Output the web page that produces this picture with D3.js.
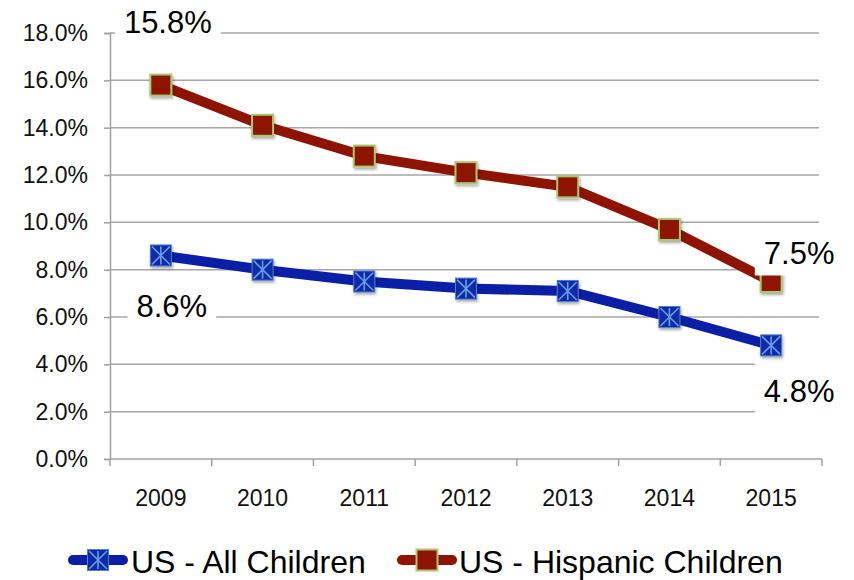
<!DOCTYPE html>
<html>
<head>
<meta charset="utf-8">
<script src="https://cdn.jsdelivr.net/npm/d3@7"></script>
<style>
  html, body { margin: 0; padding: 0; background: #fff; }
  svg { display: block; font-family: "Liberation Sans", Arial, sans-serif; }
</style>
</head>
<body>
<svg id="chart" width="854" height="580"></svg>
<script>
// Uninsured rate by year
const years = ["2009", "2010", "2011", "2012", "2013", "2014", "2015"];
const allChildren = [8.6, 8.0, 7.5, 7.2, 7.1, 6.0, 4.8];
const hispanicChildren = [15.8, 14.1, 12.8, 12.1, 11.5, 9.7, 7.5];
const yTicks = [0, 2, 4, 6, 8, 10, 12, 14, 16, 18];
const seriesNames = ["US - All Children", "US - Hispanic Children"];

const svg = d3.select("#chart");
const plotLeft = 110, plotRight = 822, plotTop = 33, plotBottom = 459;

const x = d3.scaleBand().domain(years).range([plotLeft, plotRight]);
const y = d3.scaleLinear().domain([0, 18]).range([plotBottom, plotTop]);
const fmt = d => d.toFixed(1) + "%";

const defs = svg.append("defs");
const shadow = defs.append("filter").attr("id", "shadow")
  .attr("x", "-40%").attr("y", "-40%").attr("width", "180%").attr("height", "180%");
shadow.append("feDropShadow").attr("dx", 1).attr("dy", 2)
  .attr("stdDeviation", 1.6).attr("flood-color", "#000").attr("flood-opacity", 0.35);

// gridlines
svg.append("g").selectAll("line").data(yTicks.filter(d => d > 0)).join("line")
  .attr("x1", plotLeft).attr("x2", plotRight - 3)
  .attr("y1", d => y(d)).attr("y2", d => y(d))
  .attr("stroke", "#a6a6a6").attr("stroke-width", 1.5);

// y axis
const yAxis = svg.append("g").attr("transform", `translate(${plotLeft},0)`)
  .call(d3.axisLeft(y).tickValues(yTicks).tickFormat(fmt).tickSize(6).tickPadding(16));
yAxis.select(".domain").attr("stroke", "#a0a0a0").attr("stroke-width", 1.5);
yAxis.selectAll(".tick line").attr("stroke", "#a0a0a0").attr("stroke-width", 1.5);
yAxis.selectAll("text").attr("font-size", 23).attr("fill", "#111")
  .attr("font-family", "Liberation Sans, Arial, sans-serif");

// x axis with ticks at category boundaries
const xAxisG = svg.append("g").attr("transform", `translate(0,${plotBottom})`);
xAxisG.append("line").attr("x1", plotLeft).attr("x2", plotRight)
  .attr("stroke", "#a0a0a0").attr("stroke-width", 1.5);
const boundaries = years.map(d => x(d)).concat([plotRight]);
xAxisG.selectAll(".b").data(boundaries).join("line").attr("class", "b")
  .attr("x1", d => d).attr("x2", d => d).attr("y1", 0).attr("y2", 7)
  .attr("stroke", "#a0a0a0").attr("stroke-width", 1.5);
xAxisG.selectAll("text").data(years).join("text")
  .attr("x", d => x(d) + x.bandwidth() / 2).attr("y", 47)
  .attr("text-anchor", "middle").attr("font-size", 23).attr("fill", "#111")
  .text(d => d);

const cx = (d, i) => x(years[i]) + x.bandwidth() / 2;
const line = d3.line().x(cx).y(d => y(d));

const blue = "#0a1fa6", red = "#8e1300";

function drawSeries(values, color) {
  svg.append("path").datum(values).attr("d", line)
    .attr("fill", "none").attr("stroke", color).attr("stroke-width", 10)
    .attr("stroke-linejoin", "round");
}
drawSeries(allChildren, blue);
drawSeries(hispanicChildren, red);

const S = 21;
function starMarker(g) {
  g.append("rect").attr("x", -S / 2).attr("y", -S / 2).attr("width", S).attr("height", S)
    .attr("fill", "#0a2aa8").attr("stroke", "#4f7fd0").attr("stroke-width", 1);
  const h = S / 2 - 1.5;
  const ln = [[-h, -h, h, h], [-h, h, h, -h], [0, -h, 0, h]];
  ln.forEach(l => g.append("line").attr("x1", l[0]).attr("y1", l[1]).attr("x2", l[2]).attr("y2", l[3])
    .attr("stroke", "#6b9ee6").attr("stroke-width", 1.6));
}
function squareMarker(g) {
  g.append("rect").attr("x", -S / 2).attr("y", -S / 2).attr("width", S).attr("height", S)
    .attr("fill", "#8e1300").attr("stroke", "#a9c870").attr("stroke-width", 2);
}

svg.append("g").selectAll("g").data(allChildren).join("g")
  .attr("transform", (d, i) => `translate(${cx(d, i)},${y(d)})`)
  .attr("filter", "url(#shadow)")
  .each(function () { starMarker(d3.select(this)); });
svg.append("g").selectAll("g").data(hispanicChildren).join("g")
  .attr("transform", (d, i) => `translate(${cx(d, i)},${y(d)})`)
  .attr("filter", "url(#shadow)")
  .each(function () { squareMarker(d3.select(this)); });

// data labels for first and last points
const labels = [
  { v: hispanicChildren[0], i: 0, dx: 7, dy: -52 },
  { v: allChildren[0], i: 0, dx: 11, dy: 62 },
  { v: hispanicChildren[6], i: 6, dx: 28, dy: -18 },
  { v: allChildren[6], i: 6, dx: 28, dy: 57 }
];
const lg = svg.append("g");
labels.forEach(l => {
  const px = cx(l.v, l.i) + l.dx, py = y(l.v) + l.dy;
  const t = lg.append("text").attr("x", px).attr("y", py).attr("text-anchor", "middle")
    .attr("font-size", 31).attr("fill", "#000").text(l.v.toFixed(1) + "%");
  const bb = t.node().getBBox();
  lg.insert("rect", "text").attr("x", bb.x - 9).attr("y", py - 23 - 17)
    .attr("width", bb.width + 18).attr("height", 23 + 17 + 12).attr("fill", "#fff");
});

// legend
const legend = svg.append("g").attr("transform", "translate(0,560)");
const items = [
  { name: seriesNames[0], color: blue, mk: starMarker, x0: 68, tx: 131 },
  { name: seriesNames[1], color: red, mk: squareMarker, x0: 397, tx: 459 }
];
items.forEach(it => {
  legend.append("line").attr("x1", it.x0 + 5).attr("x2", it.x0 + 55)
    .attr("stroke", it.color).attr("stroke-width", 10).attr("stroke-linecap", "round");
  const m = legend.append("g").attr("transform", `translate(${it.x0 + 30},0)`);
  it.mk(m);
  legend.append("text").attr("x", it.tx).attr("y", 13).attr("font-size", 32)
    .attr("fill", "#000").text(it.name);
});
</script>
</body>
</html>
